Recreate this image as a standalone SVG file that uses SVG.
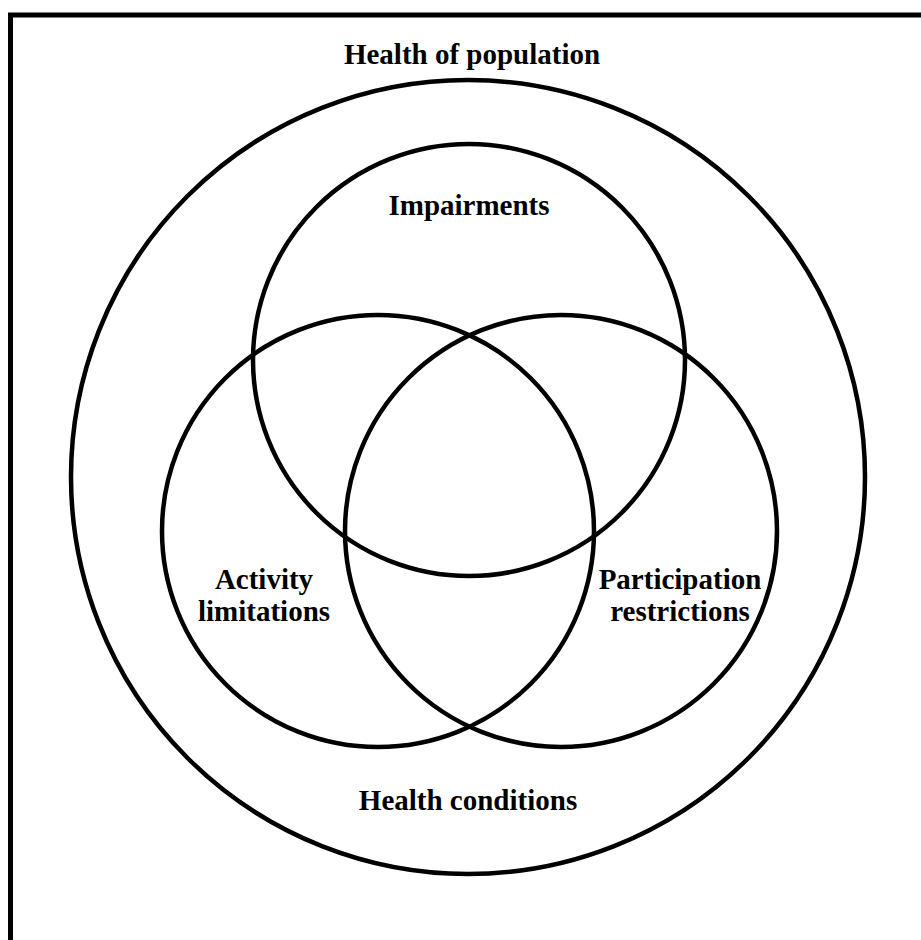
<svg xmlns="http://www.w3.org/2000/svg" width="921" height="940" viewBox="0 0 921 940">
<style>
.c{fill:none;stroke:#000;stroke-width:4.5}
.t{font-family:"Liberation Serif","Times New Roman",serif;font-weight:bold;font-size:29px;fill:#000;text-anchor:middle}
</style>
<rect x="0" y="0" width="921" height="940" fill="#fff"/>
<rect x="10.5" y="15" width="1000" height="1000" fill="none" stroke="#000" stroke-width="5"/>
<g id="population">
<circle class="c" cx="468" cy="477" r="397"/>
<text class="t" x="472" y="64">Health of population</text>
<text class="t" x="468" y="810">Health conditions</text>
</g>
<g id="impairments">
<circle class="c" cx="469" cy="360" r="216"/>
<text class="t" x="469" y="215">Impairments</text>
</g>
<g id="activity">
<circle class="c" cx="378" cy="531" r="216"/>
<text class="t" x="264" y="589">Activity</text>
<text class="t" x="264" y="621">limitations</text>
</g>
<g id="participation">
<circle class="c" cx="561" cy="531" r="216"/>
<text class="t" x="680" y="589">Participation</text>
<text class="t" x="680" y="621">restrictions</text>
</g>
<g id="connectors"/>
</svg>
